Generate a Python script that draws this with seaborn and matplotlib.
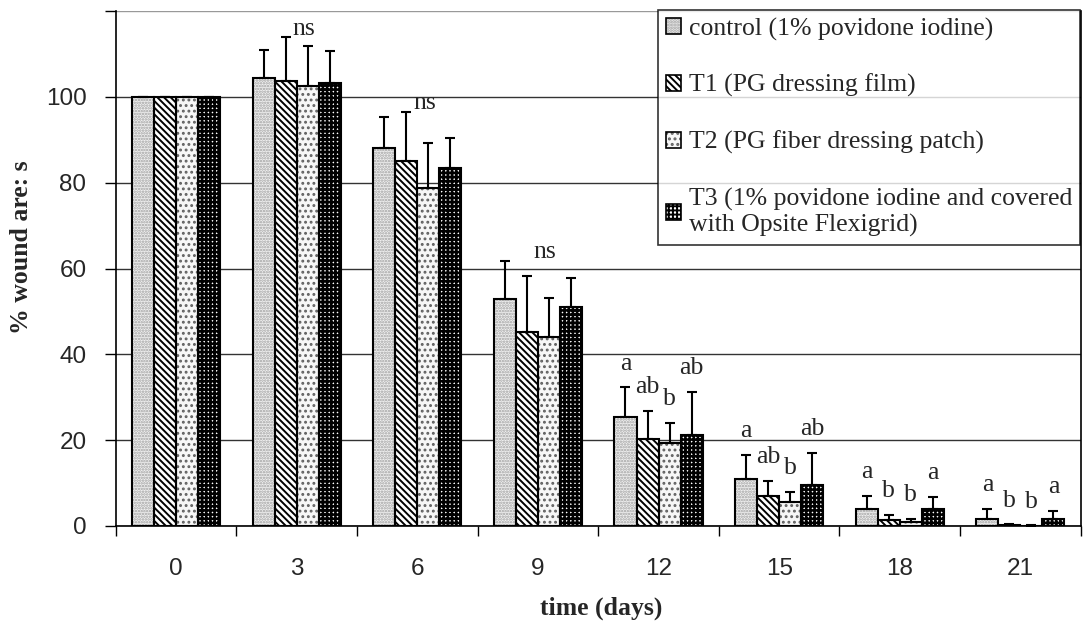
import numpy as np
import pandas as pd
import seaborn as sns
import matplotlib.pyplot as plt
from matplotlib.patches import Patch, Rectangle

# --- data (mean % wound area, upper SD)
days = ['0', '3', '6', '9', '12', '15', '18', '21']
groups = ['control (1% povidone iodine)',
          'T1 (PG dressing film)',
          'T2 (PG fiber dressing patch)',
          'T3 (1% povidone iodine and covered\nwith Opsite Flexigrid)']

control = [100, 104.4, 88.0, 53.0, 25.5, 10.9, 3.9, 1.6]
t1 = [100, 103.8, 85.0, 45.1, 20.2, 6.9, 1.4, 0.2]
t2 = [100, 102.6, 78.7, 44.0, 19.3, 5.5, 0.9, 0.1]
t3 = [100, 103.2, 83.4, 51.1, 21.3, 9.6, 3.9, 1.7]

control_sd = [0, 6.4, 7.4, 8.8, 6.8, 5.7, 3.1, 2.4]
t1_sd = [0, 10.1, 11.5, 13.2, 6.7, 3.6, 1.2, 0.2]
t2_sd = [0, 9.2, 10.6, 9.2, 4.8, 2.5, 0.8, 0.1]
t3_sd = [0, 7.4, 7.1, 6.6, 9.9, 7.5, 2.9, 1.9]

# significance marks
ns_marks = ['', 'ns', 'ns', 'ns', '', '', '', '']
letters_control = ['', '', '', '', 'a', 'a', 'a', 'a']
letters_t1 = ['', '', '', '', 'ab', 'ab', 'b', 'b']
letters_t2 = ['', '', '', '', 'b', 'b', 'b', 'b']
letters_t3 = ['', '', '', '', 'ab', 'ab', 'a', 'a']

means = [control, t1, t2, t3]
sds = [control_sd, t1_sd, t2_sd, t3_sd]
letters = [letters_control, letters_t1, letters_t2, letters_t3]

df = pd.DataFrame({
    'day': days * 4,
    'group': np.repeat(groups, len(days)),
    'area': sum(means, []),
})

# fill colour, hatch, hatch colour, hatch width per treatment
styles = [('#f0f0f0', '......', '#a0a0a0', 1.2),
          ('white', '\\\\\\\\\\', 'black', 1.4),
          ('#f6f6f6', '...', '#606060', 1.3),
          ('white', '++++', 'black', 1.9)]

sns.set_style('white')
plt.rcParams['font.family'] = ['Liberation Serif', 'DejaVu Serif']
plt.rcParams['hatch.linewidth'] = 1.4

fig, ax = plt.subplots(figsize=(10.84, 6.25), dpi=100)
fig.subplots_adjust(left=0.1067, right=0.997, bottom=0.1584, top=0.9824)

sns.barplot(data=df, x='day', y='area', hue='group', order=days, hue_order=groups,
            errorbar=None, width=0.73, saturation=1, legend=False, ax=ax)

bar_sets = list(ax.containers)
handles = []
for i, cont in enumerate(bar_sets):
    fill, hatch, hcol, hlw = styles[i]
    xs = []
    for bar in cont:
        bar.set_facecolor(fill)
        bar.set_edgecolor(hcol)
        bar.set_linewidth(0)
        bar.set_hatch(hatch)
        if hasattr(bar, 'set_hatch_linewidth'):
            bar.set_hatch_linewidth(hlw)
        ax.add_patch(Rectangle(bar.get_xy(), bar.get_width(), bar.get_height(),
                               fill=False, edgecolor='black', lw=1.5, zorder=2.1))
        xs.append(bar.get_x() + bar.get_width() / 2)
    m = np.array(means[i])
    s = np.array(sds[i])
    ax.errorbar(xs, m, yerr=[np.zeros_like(s), s], fmt='none', ecolor='black',
                elinewidth=1.5, capsize=3.5, capthick=1.5, zorder=3)
    for x, top, lab in zip(xs, m + s, letters[i]):
        if lab:
            ax.text(x, top + 5.5, lab, ha='center', va='center', fontsize=18.5)
    hp = Patch(facecolor=fill, hatch=hatch, edgecolor=hcol, lw=0)
    if hasattr(hp, 'set_hatch_linewidth'):
        hp.set_hatch_linewidth(hlw)
    handles.append((hp, Patch(fill=False, edgecolor='black', lw=1.2)))

tops = (np.array(means) + np.array(sds)).max(axis=0)
for k, lab in enumerate(ns_marks):
    if lab:
        ax.text(k + 0.06, tops[k] + 2.0, lab, ha='center', va='center', fontsize=18.5)

ax.set_xlim(-0.5, 7.5)
ax.set_ylim(0, 120)
ax.set_yticks(range(0, 121, 20))
ax.set_yticklabels(['0', '20', '40', '60', '80', '100', ''], family='Liberation Sans', fontsize=17.5)
ax.set_xticks(range(len(days)))
ax.set_xticklabels(days, family='Liberation Sans', fontsize=17.5)
ax.set_xticks(np.arange(-0.5, 8, 1), minor=True)
ax.tick_params(axis='x', which='major', length=0, pad=23)
ax.tick_params(axis='x', which='minor', length=7, width=1, color='black', direction='out', bottom=True)
ax.tick_params(axis='y', length=8, width=1, color='black', direction='out', pad=13, left=True)

ax.yaxis.grid(True, color='#333333', lw=1)
ax.get_ygridlines()[-1].set_color('#999999')
ax.set_axisbelow(True)
ax.spines['top'].set_visible(False)
for side in ['left', 'bottom', 'right']:
    ax.spines[side].set_color('black')
    ax.spines[side].set_linewidth(1.2)

ax.set_ylabel('% wound are: s', fontsize=18.5, fontweight='bold')
ax.yaxis.set_label_coords(-0.0857, 0.542)
ax.set_xlabel('time (days)', fontsize=18.5, fontweight='bold')
ax.xaxis.set_label_coords(0.503, -0.137)

leg = fig.legend(handles, groups, loc='lower left', bbox_to_anchor=(658 / 1084, 1 - 245 / 625),
                 fontsize=18.5, frameon=True, fancybox=False, edgecolor='black',
                 handlelength=0.6, handleheight=0.6, handletextpad=0.3,
                 labelspacing=1.3, borderpad=0.3, borderaxespad=0)
leg.get_frame().set_linewidth(1.2)
leg.set_zorder(10)

plt.savefig('out.png', dpi=100)
